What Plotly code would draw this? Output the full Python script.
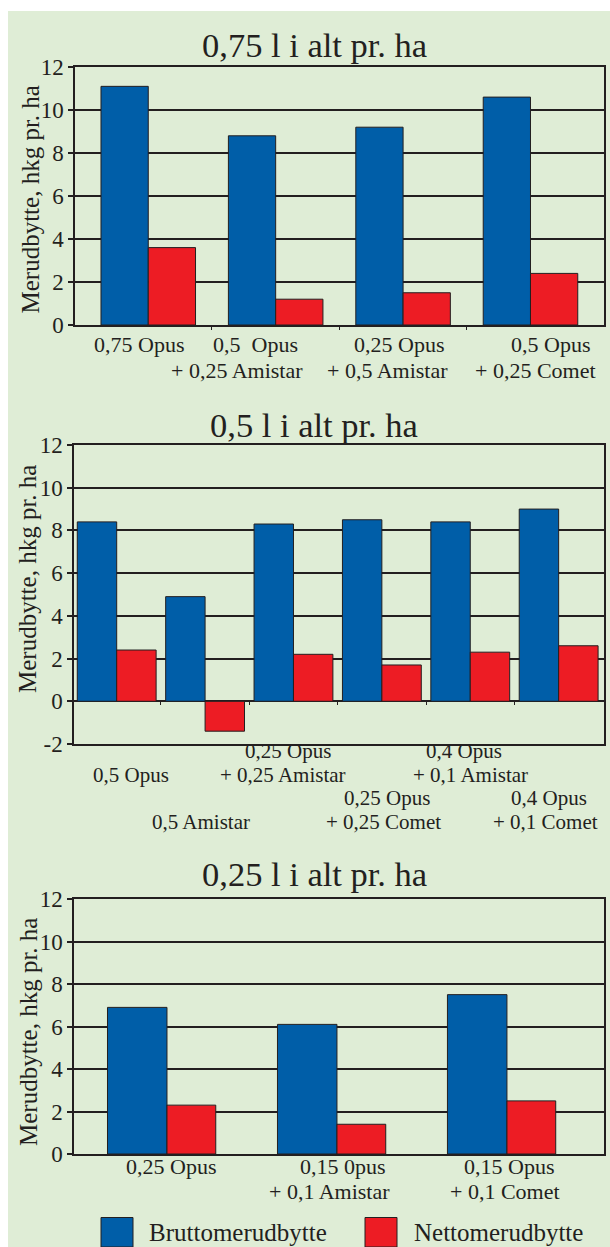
import plotly.graph_objects as go

# ---------------- data ----------------
series_names = ["Bruttomerudbytte", "Nettomerudbytte"]
titles = ["0,75 l i alt pr. ha", "0,5 l i alt pr. ha", "0,25 l i alt pr. ha"]
y_title = "Merudbytte, hkg pr. ha"

cats_1 = ["0,75 Opus", "0,5  Opus\n+ 0,25 Amistar", "0,25 Opus\n+ 0,5 Amistar", "0,5 Opus\n+ 0,25 Comet"]
brutto_1 = [11.1, 8.8, 9.2, 10.6]
netto_1 = [3.6, 1.2, 1.5, 2.4]

cats_2 = ["0,5 Opus", "0,5 Amistar", "0,25 Opus\n+ 0,25 Amistar", "0,25 Opus\n+ 0,25 Comet",
          "0,4 Opus\n+ 0,1 Amistar", "0,4 Opus\n+ 0,1 Comet"]
brutto_2 = [8.4, 4.9, 8.3, 8.5, 8.4, 9.0]
netto_2 = [2.4, -1.4, 2.2, 1.7, 2.3, 2.6]

cats_3 = ["0,25 Opus", "0,15 0pus\n+ 0,1 Amistar", "0,15 Opus\n+ 0,1 Comet"]
brutto_3 = [6.9, 6.1, 7.5]
netto_3 = [2.3, 1.4, 2.5]

y_ticks = [-2, 0, 2, 4, 6, 8, 10, 12]

# ---------------- style / layout ----------------
W, H = 610, 1247
BG = "#DFEDD6"
BLUE = "#005EA8"
RED = "#ED1C24"
INK = "#231F20"
FONT = "Liberation Serif"


def fx(px):
    return px / W


def fy(py):
    return 1 - py / H


# label rows of the middle chart (staggered)
RA, RB, RC, RD = 751, 774.5, 798, 821.5
# label rows of the bottom chart
R1, R2 = 1166.5, 1191.5

panels = [
    dict(cats=cats_1, b=brutto_1, n=netto_1, x0=75, x1=604, ytop=67, ybot=325, yr=[0, 12],
         xr=[-0.575, 3.577], wb=0.371, wn=0.371, xticks=[0.5, 1.5, 2.5], title_y=45,
         yt=(30, 199.5), lab_size=22,
         lab=[[(138.8, 344)], [(255.8, 344), (236.7, 371)], [(398.5, 344), (387.5, 371)],
              [(550, 344), (535.5, 371)]]),
    dict(cats=cats_2, b=brutto_2, n=netto_2, x0=74, x1=604, ytop=445, ybot=744, yr=[-2, 12],
         xr=[-0.483, 5.513], wb=0.446, wn=0.446, xticks=[], title_y=425,
         yt=(28, 579), lab_size=21,
         lab=[[(131.3, RB)], [(201.3, RD)], [(288, RA), (283, RB)], [(387, RC), (383.3, RD)],
              [(463.8, RA), (470, RB)], [(549, RC), (545, RD)]]),
    dict(cats=cats_3, b=brutto_3, n=netto_3, x0=74, x1=604, ytop=899, ybot=1154, yr=[0, 12],
         xr=[-0.547, 2.571], wb=0.35, wn=0.287, xticks=[], title_y=874,
         yt=(28, 1032), lab_size=22,
         lab=[[(170.8, R1)], [(342.8, R1), (329, R2)], [(508.8, R1), (504.7, R2)]]),
]

fig = go.Figure()
annotations = []
layout_axes = {}

for i, p in enumerate(panels):
    k = "" if i == 0 else str(i + 1)
    xs = list(range(len(p["cats"])))
    fig.add_trace(go.Bar(x=xs, y=p["b"], name=series_names[0], width=p["wb"], offset=-p["wb"],
                         marker=dict(color=BLUE, line=dict(color=INK, width=1)),
                         xaxis="x" + k, yaxis="y" + k, showlegend=False))
    fig.add_trace(go.Bar(x=xs, y=p["n"], name=series_names[1], width=p["wn"], offset=0,
                         marker=dict(color=RED, line=dict(color=INK, width=1)),
                         xaxis="x" + k, yaxis="y" + k, showlegend=False))
    tv = [t for t in y_ticks if p["yr"][0] <= t <= p["yr"][1]]
    layout_axes["xaxis" + k] = dict(
        domain=[fx(p["x0"]), fx(p["x1"])], range=p["xr"], anchor="y" + k, automargin=False,
        showgrid=False, zeroline=False, showline=True, linecolor=INK, linewidth=1.5, mirror=True,
        tickvals=p["xticks"], ticks="outside" if p["xticks"] else "", ticklen=3, tickcolor=INK,
        showticklabels=False, fixedrange=True)
    layout_axes["yaxis" + k] = dict(
        domain=[fy(p["ybot"]), fy(p["ytop"])], range=p["yr"], anchor="x" + k, automargin=False,
        tickvals=tv, ticktext=[str(t) for t in tv], ticks="outside", ticklen=5, tickwidth=1.5,
        tickcolor=INK, showgrid=True, gridcolor=INK, gridwidth=1.5,
        zeroline=p["yr"][0] < 0, zerolinecolor=INK, zerolinewidth=1.5,
        showline=True, linecolor=INK, linewidth=1.5, mirror=True,
        tickfont=dict(family=FONT, size=23, color=INK), fixedrange=True)
    # chart title
    annotations.append(dict(text=titles[i], x=fx(314), y=fy(p["title_y"]), xref="paper", yref="paper",
                            xanchor="center", yanchor="middle", showarrow=False,
                            font=dict(family=FONT, size=34.5, color=INK)))
    # y-axis title
    annotations.append(dict(text=y_title, x=fx(p["yt"][0]), y=fy(p["yt"][1]), xref="paper", yref="paper",
                            xanchor="center", yanchor="middle", textangle=-90, showarrow=False,
                            font=dict(family=FONT, size=25, color=INK)))
    # category labels (line by line)
    for cat, pos in zip(p["cats"], p["lab"]):
        for line, (lx, ly) in zip(cat.split("\n"), pos):
            annotations.append(dict(text=line.replace("  ", "\u00a0 "), x=fx(lx), y=fy(ly),
                                    xref="paper", yref="paper", xanchor="center", yanchor="middle",
                                    showarrow=False, font=dict(family=FONT, size=p["lab_size"], color=INK)))

# small category-boundary ticks on the zero line of the middle chart
p2 = panels[1]
fig.add_trace(go.Scatter(x=[], y=[], xaxis="x4", yaxis="y2", showlegend=False, hoverinfo="skip"))
layout_axes["xaxis4"] = dict(
    overlaying="x2", anchor="free", position=fy(701), domain=[fx(p2["x0"]), fx(p2["x1"])],
    range=p2["xr"], automargin=False, showgrid=False, zeroline=False, showline=False,
    tickvals=[j + 0.5 for j in range(len(p2["cats"]) - 1)], ticks="outside", ticklen=3,
    tickcolor=INK, showticklabels=False, fixedrange=True)

# background panel and legend (manual, large swatches)
shapes = [dict(type="rect", xref="paper", yref="paper", x0=fx(8), x1=1, y0=0, y1=fy(11),
               fillcolor=BG, line=dict(width=0), layer="below")]
legend_items = [(series_names[0], BLUE, 101, 147), (series_names[1], RED, 365, 411.5)]
for name, col, sx, tx in legend_items:
    shapes.append(dict(type="rect", xref="paper", yref="paper", x0=fx(sx), x1=fx(sx + 32),
                       y0=fy(1247), y1=fy(1217.5), fillcolor=col, line=dict(color=INK, width=1)))
    annotations.append(dict(text=name, x=fx(tx), y=fy(1232), xref="paper", yref="paper",
                            xanchor="left", yanchor="middle", showarrow=False,
                            font=dict(family=FONT, size=25, color=INK)))

fig.update_layout(
    template="none",
    width=W, height=H, autosize=False, margin=dict(l=0, r=0, t=0, b=0, pad=0, autoexpand=False),
    paper_bgcolor="white", plot_bgcolor=BG,
    barmode="overlay", showlegend=False,
    font=dict(family=FONT, color=INK),
    annotations=annotations, shapes=shapes,
    **layout_axes,
)

fix_page = (
    "document.body.style.margin='0';document.body.style.overflow='hidden';"
    "var gd=document.getElementById('{plot_id}');"
    "gd.style.position='absolute';gd.style.left='0px';gd.style.top='0px';"
)
fig.write_html("out.html", post_script=fix_page, config={"displayModeBar": False})
